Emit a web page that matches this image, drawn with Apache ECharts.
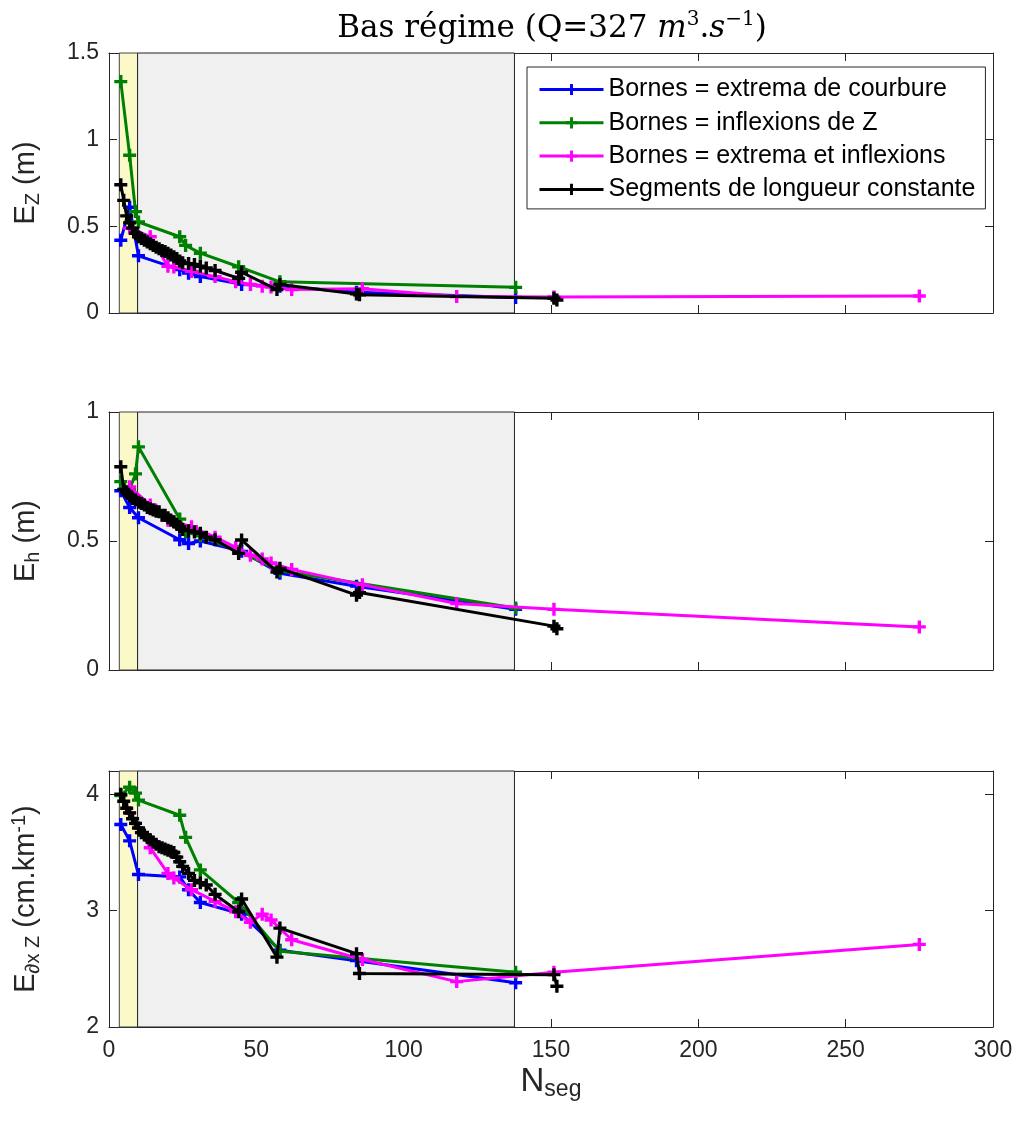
<!DOCTYPE html>
<html><head><meta charset="utf-8">
<script src="https://cdn.jsdelivr.net/npm/echarts@6/dist/echarts.min.js"></script>
<style>html,body{margin:0;padding:0;background:#fff}#c{width:1018px;height:1129px}</style>
</head><body><div id="c"></div><script>
const seriesNames = ['Bornes = extrema de courbure', 'Bornes = inflexions de Z', 'Bornes = extrema et inflexions', 'Segments de longueur constante'];
const seriesColors = ['#0000ff', '#008000', '#ff00ff', '#000000'];
const xTicks = [0, 50, 100, 150, 200, 250, 300];
const bandYellow = [3.5, 9.7];
const bandGray = [9.7, 137.6];

const xBlue = [4, 7, 10, 24, 27, 31, 45, 58, 84, 138];
const ezBlue = [0.42, 0.61, 0.33, 0.25, 0.23, 0.21, 0.165, 0.155, 0.12, 0.09];
const ehBlue = [0.695, 0.63, 0.59, 0.505, 0.49, 0.50, 0.46, 0.375, 0.325, 0.235];
const edBlue = [3.74, 3.60, 3.31, 3.29, 3.18, 3.07, 2.97, 2.66, 2.57, 2.38];

const xGreen = [4, 7, 9, 10, 24, 26, 31, 44, 58, 138];
const ezGreen = [1.335, 0.91, 0.585, 0.525, 0.44, 0.39, 0.345, 0.267, 0.18, 0.148];
const ehGreen = [0.73, 0.70, 0.76, 0.865, 0.585, 0.535, 0.52, 0.46, 0.385, 0.24];
const edGreen = [3.99, 4.06, 4.01, 3.95, 3.82, 3.63, 3.35, 3.07, 2.65, 2.47];

const xMag = [7, 14, 20, 22, 28, 36, 43, 48, 52, 55, 62, 86, 118, 151, 275];
const ezMag = [0.49, 0.44, 0.27, 0.265, 0.24, 0.21, 0.18, 0.165, 0.155, 0.15, 0.135, 0.14, 0.095, 0.092, 0.098];
const ehMag = [0.71, 0.64, 0.58, 0.575, 0.555, 0.515, 0.475, 0.445, 0.43, 0.415, 0.39, 0.33, 0.258, 0.235, 0.167];
const edMag = [3.84, 3.54, 3.32, 3.28, 3.18, 3.08, 2.99, 2.90, 2.97, 2.92, 2.75, 2.58, 2.39, 2.47, 2.71];

const xBlack = [4, 5, 6, 7, 8, 9, 10, 11, 12, 13, 14, 15, 16, 17, 18, 19, 20, 21, 22, 23, 24, 25, 27, 29, 31, 33, 36, 44, 45, 57, 58, 84, 85, 151, 152];
const ezBlack = [0.74, 0.65, 0.56, 0.52, 0.49, 0.46, 0.44, 0.43, 0.42, 0.41, 0.40, 0.39, 0.38, 0.37, 0.36, 0.355, 0.345, 0.335, 0.325, 0.315, 0.30, 0.29, 0.285, 0.28, 0.27, 0.26, 0.245, 0.20, 0.235, 0.135, 0.165, 0.11, 0.105, 0.085, 0.075];
const ehBlack = [0.788, 0.70, 0.69, 0.675, 0.665, 0.66, 0.65, 0.645, 0.64, 0.63, 0.625, 0.62, 0.615, 0.613, 0.60, 0.60, 0.59, 0.58, 0.575, 0.565, 0.555, 0.545, 0.54, 0.535, 0.53, 0.515, 0.505, 0.452, 0.504, 0.38, 0.394, 0.29, 0.30, 0.17, 0.16];
const edBlack = [4.0, 3.94, 3.88, 3.84, 3.79, 3.75, 3.71, 3.67, 3.65, 3.63, 3.61, 3.59, 3.57, 3.55, 3.54, 3.53, 3.52, 3.51, 3.50, 3.46, 3.42, 3.38, 3.32, 3.26, 3.24, 3.22, 3.14, 2.99, 3.10, 2.60, 2.85, 2.63, 2.46, 2.45, 2.35];

const panels = [
  {xs: [xBlue, xGreen, xMag, xBlack], ys: [ezBlue, ezGreen, ezMag, ezBlack], min: 0, max: 1.5, interval: 0.5},
  {xs: [xBlue, xGreen, xMag, xBlack], ys: [ehBlue, ehGreen, ehMag, ehBlack], min: 0, max: 1, interval: 0.5},
  {xs: [xBlue, xGreen, xMag, xBlack], ys: [edBlue, edGreen, edMag, edBlack], min: 2, max: 4.2, interval: 1}
];

const FONT = '"Liberation Sans", Arial, Helvetica, sans-serif';
const SERIF = '"DejaVu Serif", "Liberation Serif", serif';
const AXC = '#262626';
const PLUS = 'path://M3.7,0H6.3V3.7H10V6.3H6.3V10H3.7V6.3H0V3.7H3.7Z';

const grids = [
  {left: 109, width: 884, top: 53, height: 260},
  {left: 109, width: 884, top: 412, height: 258},
  {left: 109, width: 884, top: 771, height: 256}
];

const main = {fontSize: 29, fontFamily: FONT, color: AXC, lineHeight: 34};
const sub = {fontSize: 20, fontFamily: FONT, color: AXC, lineHeight: 20, verticalAlign: 'bottom'};
const sup = {fontSize: 20, fontFamily: FONT, color: AXC, lineHeight: 20, verticalAlign: 'top'};
const yNames = [
  '{a|E}{s|Z}{a| (m)}',
  '{a|E}{s|h}{a| (m)}',
  '{a|E}{s|∂x Z}{a| (cm.km}{p|-1}{a|)}'
];

const xAxis = [], yAxis = [], series = [];
panels.forEach((p, g) => {
  const isLast = g === panels.length - 1;
  const baseLine = {show: true, onZero: false, lineStyle: {color: AXC, width: 1}};
  const tick = {show: true, inside: true, length: 8, lineStyle: {color: AXC, width: 1}};
  xAxis.push({
    type: 'value', gridIndex: g, min: xTicks[0], max: xTicks[xTicks.length - 1], interval: xTicks[1] - xTicks[0],
    position: 'bottom', axisLine: baseLine, axisTick: tick, splitLine: {show: false},
    axisLabel: {show: isLast, fontSize: 23, fontFamily: FONT, color: AXC, margin: 12},
    name: isLast ? '{a|N}{s|seg}' : '', nameLocation: 'middle', nameGap: 36,
    nameTextStyle: {rich: {
      a: {fontSize: 33, fontFamily: FONT, color: AXC, lineHeight: 38},
      s: {fontSize: 23, fontFamily: FONT, color: AXC, lineHeight: 23, verticalAlign: 'bottom'}
    }}
  });
  xAxis.push({
    type: 'value', gridIndex: g, min: xTicks[0], max: xTicks[xTicks.length - 1], interval: xTicks[1] - xTicks[0],
    position: 'top', axisLine: baseLine, axisTick: tick, splitLine: {show: false}, axisLabel: {show: false}
  });
  yAxis.push({
    type: 'value', gridIndex: g, min: p.min, max: p.max, interval: p.interval, position: 'left',
    axisLine: baseLine, axisTick: tick, splitLine: {show: false},
    axisLabel: {fontSize: 23, fontFamily: FONT, color: AXC, margin: 10, showMaxLabel: p.max % p.interval === 0},
    name: yNames[g], nameLocation: 'middle', nameGap: 66, nameRotate: 90,
    nameTextStyle: {rich: {a: main, s: sub, p: sup}}
  });
  yAxis.push({
    type: 'value', gridIndex: g, min: p.min, max: p.max, interval: p.interval, position: 'right',
    axisLine: baseLine, axisTick: tick, splitLine: {show: false}, axisLabel: {show: false}
  });
  series.push({
    type: 'line', xAxisIndex: 2 * g, yAxisIndex: 2 * g, data: [], silent: true, z: 1,
    markArea: {
      silent: true,
      data: [
        [{xAxis: bandYellow[0], itemStyle: {color: '#fcf9c9', borderColor: '#444', borderWidth: 1}}, {xAxis: bandYellow[1]}],
        [{xAxis: bandGray[0], itemStyle: {color: '#f0f0f0', borderColor: '#222', borderWidth: 1}}, {xAxis: bandGray[1]}]
      ]
    }
  });
  for (let s = 0; s < 4; s++) {
    series.push({
      name: seriesNames[s], type: 'line', xAxisIndex: 2 * g, yAxisIndex: 2 * g, z: 2 + s,
      data: p.xs[s].map((x, i) => [x, p.ys[s][i]]),
      symbol: PLUS, symbolSize: 13, showAllSymbol: true,
      itemStyle: {color: seriesColors[s]}, lineStyle: {color: seriesColors[s], width: 3},
      animation: false
    });
  }
});

const chart = echarts.init(document.getElementById('c'), null, {renderer: 'canvas'});
chart.setOption({
  animation: false,
  backgroundColor: '#fff',
  grid: grids,
  xAxis, yAxis, series,
  legend: {
    data: seriesNames, orient: 'vertical', left: 527, top: 67,
    padding: [10, 10, 7, 11], itemGap: 8.3, itemWidth: 64, itemHeight: 14,
    borderColor: AXC, borderWidth: 1, backgroundColor: '#fff',
    lineStyle: {width: 3},
    textStyle: {fontSize: 25, fontFamily: FONT, color: '#000'}
  },
  graphic: [{
    type: 'text', x: 552, y: 29,
    style: {
      text: '{t|Bas régime (Q=327 }{i|m}{p|3}{t|.}{i|s}{p|−1}{t|)}',
      align: 'center', verticalAlign: 'middle', textAlign: 'center', textVerticalAlign: 'middle',
      rich: {
        t: {fontSize: 31, fontFamily: SERIF, color: '#000', lineHeight: 38},
        i: {fontSize: 31, fontFamily: SERIF, fontStyle: 'italic', color: '#000', lineHeight: 38},
        p: {fontSize: 20, fontFamily: SERIF, color: '#000', lineHeight: 20, verticalAlign: 'top'}
      }
    }
  }]
});
</script></body></html>
